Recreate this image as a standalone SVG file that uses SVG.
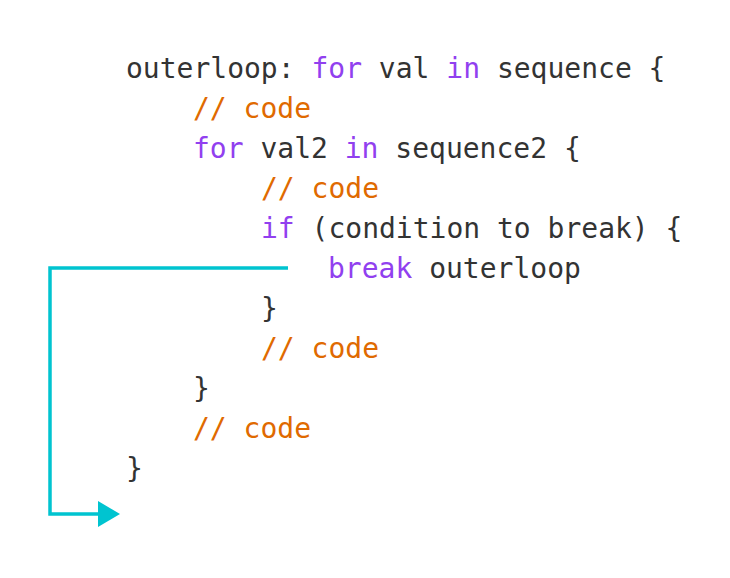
<svg xmlns="http://www.w3.org/2000/svg" width="730" height="578" viewBox="0 0 730 578">
<style>
text{font-family:"DejaVu Sans Mono","Liberation Mono",monospace;font-size:28px;fill:#333;white-space:pre}
.k{fill:#9140ef}.c{fill:#e06a00}
</style>
<rect width="730" height="578" fill="#fff"/>
<defs>
<marker id="a" viewBox="0 0 22 26" refX="2" refY="13" markerWidth="22" markerHeight="26" markerUnits="userSpaceOnUse" orient="auto"><path d="M0,0L22,13L0,26z" fill="#00c4d0"/></marker></defs>
<g id="code" xml:space="preserve">
<text x="126" y="78">outerloop: <tspan class="k">for</tspan> val <tspan class="k">in</tspan> sequence {</text>
<text x="193" y="118" class="c">// code</text>
<text x="193" y="158"><tspan class="k">for</tspan> val2 <tspan class="k">in</tspan> sequence2 {</text>
<text x="261" y="198" class="c">// code</text>
<text x="261" y="238"><tspan class="k">if</tspan> (condition to break) {</text>
<text x="328" y="278"><tspan class="k">break</tspan> outerloop</text>
<text x="261" y="318">}</text>
<text x="261" y="358" class="c">// code</text>
<text x="193" y="398">}</text>
<text x="193" y="438" class="c">// code</text>
<text x="126" y="478">}</text>
</g>
<g id="connectors">
<path d="M288,268H50V514H100" fill="none" stroke="#00c4d0" stroke-width="3.5" marker-end="url(#a)"/>
</g>
</svg>
